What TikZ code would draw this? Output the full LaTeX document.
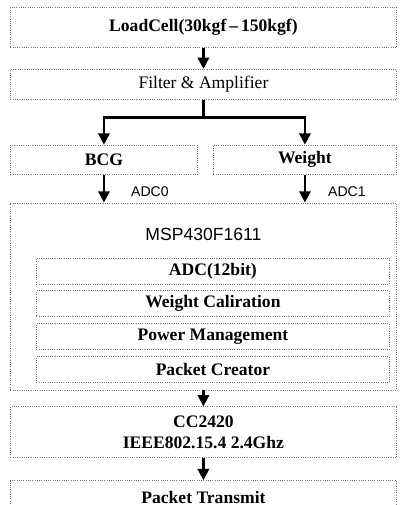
\documentclass[tikz,border=0pt]{standalone}
\usepackage{fontspec}
\setmainfont{Liberation Serif}
\setsansfont{Liberation Sans}
\usetikzlibrary{positioning, arrows.meta}

\begin{document}
\begin{tikzpicture}[
    node distance=0.5cm,
    box/.style={draw=black!55, densely dotted, line width=0.6pt, rectangle, minimum width=9.65cm, inner sep=0pt, align=center, font=\fontsize{12.5}{15}\selectfont\bfseries},
    subbox/.style={box, minimum width=8.825cm, minimum height=0.65cm},
    port/.style={inner sep=0pt, font=\sffamily\fontsize{10}{12}\selectfont},
    arr/.style={-{Triangle[width=8pt, length=8pt]}, line width=1.8pt}
]
    \useasboundingbox (0,0) rectangle (10,-12.625);

    \node[box, minimum height=1cm, anchor=north west] (load) at (0.25,-0.175) {LoadCell(30kgf\,--\,150kgf)};
    \node[box, minimum height=0.75cm, font=\fontsize{12.5}{15}\selectfont] (filter) [below=0.525cm of load] {Filter \& Amplifier};

    \node[box, minimum width=4.675cm, minimum height=0.725cm] (bcg) [below=1.125cm of filter.south west, anchor=north west] {BCG};
    \node[box, minimum width=4.575cm, minimum height=0.725cm] (weight) [below=1.125cm of filter.south east, anchor=north east] {Weight};

    \node[box, minimum height=4.675cm] (msp) [below=0.7cm of bcg.south west, anchor=north west] {};
    \node[port, font=\sffamily\fontsize{12.5}{15}\selectfont] (msptitle) [below=0.8cm of msp.north, anchor=center] {MSP430F1611};
    \node[subbox] (adc) [below=1.375cm of msp.north west, xshift=0.65cm, anchor=north west] {ADC(12bit)};
    \node[subbox] (calib) [below=0.15cm of adc] {Weight Caliration};
    \node[subbox] (power) [below=0.15cm of calib] {Power Management};
    \node[subbox] (packet) [below=0.15cm of power] {Packet Creator};

    \node[box, minimum height=1.275cm] (radio) [below=0.4cm of msp] {CC2420\\IEEE802.15.4 2.4Ghz};
    \node[box, minimum height=0.84cm] (tx) [below=0.55cm of radio] {Packet Transmit};

    \coordinate[below=0.45cm of filter] (split);

    \draw[arr] (load) -- (filter);
    \draw[arr] (filter.south) -- (split) -| (bcg.north);
    \draw[arr] (split) -| (weight.north);
    \draw[arr] (bcg) -- (bcg |- msp.north) node[port, pos=0.6, right=0.65cm] {ADC0};
    \draw[arr] (weight) -- (weight |- msp.north) node[port, pos=0.6, right=0.55cm] {ADC1};
    \draw[arr] (msp) -- (radio);
    \draw[arr] (radio) -- (tx);

\end{tikzpicture}
\end{document}
